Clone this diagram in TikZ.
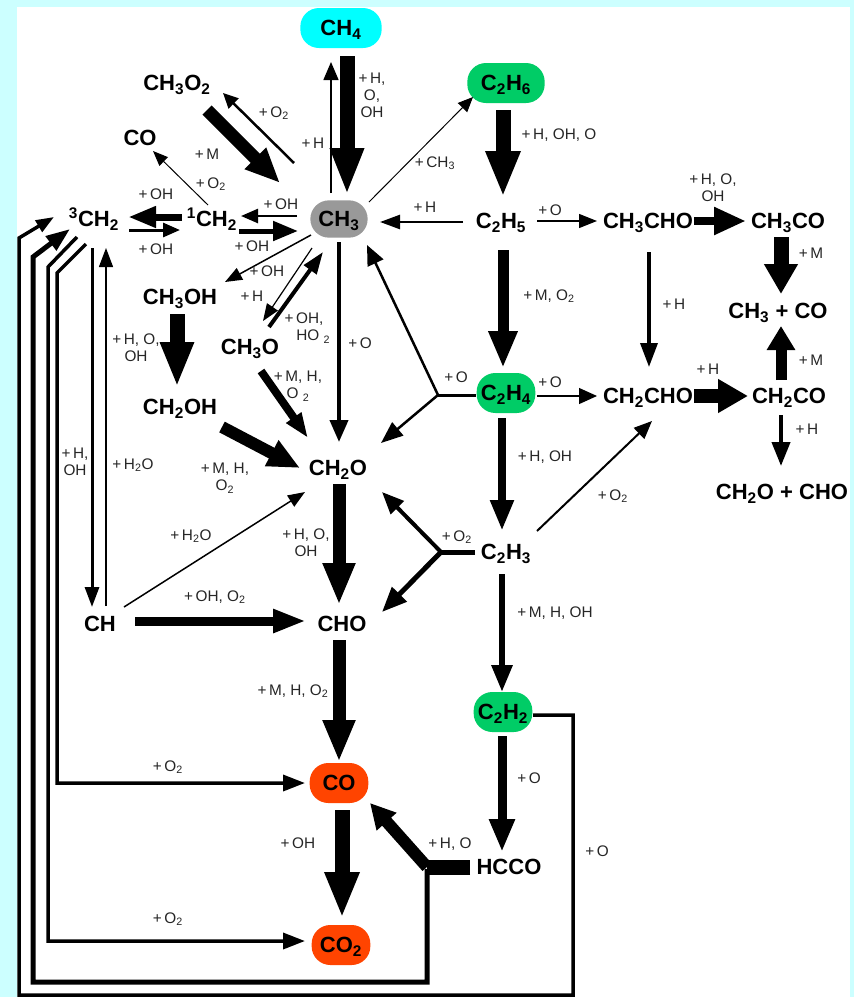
\documentclass[tikz,border=0pt]{standalone}
\usepackage{fontspec}
\setmainfont{Liberation Sans}
\usetikzlibrary{arrows.meta}

\definecolor{pagecyan}{RGB}{204,255,255}
\definecolor{fuelcyan}{RGB}{0,255,255}
\definecolor{fuelgreen}{RGB}{0,204,102}
\definecolor{radgray}{RGB}{153,153,153}
\definecolor{prodred}{RGB}{255,68,0}

\tikzset{
    chem/.style={inner sep=0pt, text height=11.8pt, text depth=0pt, font=\fontsize{16.5}{19}\selectfont\bfseries},
    pill/.style={chem, fill=#1, rounded corners=14pt, minimum height=30pt},
    lab/.style={inner sep=0pt, align=center, text=black!85, font=\fontsize{11.5}{12.8}\selectfont},
    flow/.style n args={3}{line width=#1*0.75pt, -{Triangle[length=#2pt, width=#3pt, scale=0.75]}},
    wire/.style={line width=#1*0.75pt}
}

\begin{document}
\begin{tikzpicture}[x=0.75pt, y=-0.75pt]

    % Page band and white sheet
    \useasboundingbox (0,0) rectangle (854,997);
    \fill[pagecyan] (0,0) rectangle (854,997);
    \fill[white] (17,7) rectangle (850,997);

    % Species in colour
    \node[pill=fuelcyan, minimum width=61pt] (ch4) at (341,28) {CH\textsubscript{4}};
    \node[pill=radgray, minimum width=43pt, minimum height=28pt] (ch3) at (339,219) {CH\textsubscript{3}};
    \node[pill=fuelgreen, minimum width=58pt] (c2h6) at (506,83) {C\textsubscript{2}H\textsubscript{6}};
    \node[pill=fuelgreen, minimum width=44pt] (c2h4) at (506,393) {C\textsubscript{2}H\textsubscript{4}};
    \node[pill=fuelgreen, minimum width=44pt] (c2h2) at (503,712) {C\textsubscript{2}H\textsubscript{2}};
    \node[pill=prodred, minimum width=44pt] (co) at (339,783) {CO};
    \node[pill=prodred, minimum width=44pt] (co2) at (341,945) {CO\textsubscript{2}};

    % Plain species
    \node[chem] (ch3o2) at (177,83) {CH\textsubscript{3}O\textsubscript{2}};
    \node[chem] (coA) at (140,138) {CO};
    \node[chem] (tch2) at (94,219) {\textsuperscript{3}CH\textsubscript{2}};
    \node[chem] (och2) at (212,219) {\textsuperscript{1}CH\textsubscript{2}};
    \node[chem] (c2h5) at (501,221) {C\textsubscript{2}H\textsubscript{5}};
    \node[chem] (ch3cho) at (648,221) {CH\textsubscript{3}CHO};
    \node[chem] (ch3co) at (788,221) {CH\textsubscript{3}CO};
    \node[chem] (prodA) at (778,311) {CH\textsubscript{3} + CO};
    \node[chem] (ch3oh) at (180,297) {CH\textsubscript{3}OH};
    \node[chem] (ch3o) at (250,347) {CH\textsubscript{3}O};
    \node[chem] (ch2oh) at (180,407) {CH\textsubscript{2}OH};
    \node[chem] (ch2cho) at (648,396) {CH\textsubscript{2}CHO};
    \node[chem] (ch2co) at (789,396) {CH\textsubscript{2}CO};
    \node[chem] (prodB) at (782,492) {CH\textsubscript{2}O + CHO};
    \node[chem] (ch2o) at (338,468) {CH\textsubscript{2}O};
    \node[chem] (c2h3) at (506,552) {C\textsubscript{2}H\textsubscript{3}};
    \node[chem] (ch) at (100,624) {CH};
    \node[chem] (cho) at (342,624) {CHO};
    \node[chem] (hcco) at (509,867) {HCCO};

    % Branch points
    \coordinate (forkA) at (438,395);
    \coordinate (forkB) at (441,552);
    \coordinate (forkC) at (427,867);

    % Top of the scheme
    \draw[flow={1.5}{18}{15}] ([shift={(-8,-26)}]ch3.center) -- ([shift={(-10,34)}]ch4.center);
    \draw[flow={15}{47}{31}] ([shift={(6,28)}]ch4.center) -- ([shift={(8,-24)}]ch3.center);
    \draw[flow={2.5}{15}{14}] ([shift={(-45,-56)}]ch3.center) -- ([shift={(46,10)}]ch3o2.center);
    \draw[flow={13}{35}{28}] ([shift={(30,27)}]ch3o2.center) -- ([shift={(-59,-36)}]ch3.center);
    \draw[flow={1}{15}{12}] ([shift={(-4,-14)}]och2.center) -- ([shift={(13,13)}]coA.center);
    \draw[flow={7}{28}{20}] ([shift={(-30,-2)}]och2.center) -- ([shift={(34,-2)}]tch2.center);
    \draw[flow={3}{17}{14}] ([shift={(35,11)}]tch2.center) -- ([shift={(-32,11)}]och2.center);
    \draw[flow={2.5}{17}{14}] ([shift={(-42,-3)}]ch3.center) -- ([shift={(29,-3)}]och2.center);
    \draw[flow={5}{25}{19}] ([shift={(27,12)}]och2.center) -- ([shift={(-41,12)}]ch3.center);
    \draw[flow={1.5}{17}{13}] ([shift={(-28,16)}]ch3.center) -- ([shift={(45,-15)}]ch3oh.center);
    \draw[flow={1.2}{17}{13}] ([shift={(-27,29)}]ch3.center) -- ([shift={(13,-26)}]ch3o.center);
    \draw[flow={4}{22}{15}] ([shift={(19,-20)}]ch3o.center) -- ([shift={(-16,33)}]ch3.center);
    \draw[flow={4}{22}{18}] ([shift={(0,23)}]ch3.center) -- ([shift={(1,-26)}]ch2o.center);
    \draw[flow={2.5}{20}{14}] ([shift={(-38,1)}]c2h5.center) -- ([shift={(41,3)}]ch3.center);
    \draw[flow={1}{15}{13}] ([shift={(30,-17)}]ch3.center) -- ([shift={(-33,14)}]c2h6.center);

    % C2 chain
    \draw[flow={15}{46}{32}] ([shift={(-3,27)}]c2h6.center) -- ([shift={(2,-24)}]c2h5.center);
    \draw[flow={1.2}{18}{14}] ([shift={(36,0)}]c2h5.center) -- ([shift={(-51,0)}]ch3cho.center);
    \draw[flow={8}{32}{26}] ([shift={(46,0)}]ch3cho.center) -- ([shift={(-42,0)}]ch3co.center);
    \draw[flow={15}{30}{32}] ([shift={(-7,16)}]ch3co.center) -- ([shift={(3,-17)}]prodA.center);
    \draw[flow={11}{37}{27}] ([shift={(2,29)}]c2h5.center) -- ([shift={(-3,-25)}]c2h4.center);
    \draw[flow={3.5}{24}{17}] ([shift={(1,31)}]ch3cho.center) -- ([shift={(1,-29)}]ch2cho.center);
    \draw[flow={11}{24}{27}] ([shift={(-8,-16)}]ch2co.center) -- ([shift={(3,15)}]prodA.center);
    \draw[flow={14}{30}{32}] ([shift={(46,0)}]ch2cho.center) -- ([shift={(-41,0)}]ch2co.center);
    \draw[flow={4}{24}{18}] ([shift={(-8,19)}]ch2co.center) -- ([shift={(-1,-26)}]prodB.center);
    \draw[flow={1.2}{18}{16}] ([shift={(31,3)}]c2h4.center) -- ([shift={(-51,0)}]ch2cho.center);
    \draw[flow={8}{31}{22}] ([shift={(-4,25)}]c2h4.center) -- ([shift={(-4,-21)}]c2h3.center);
    \draw[flow={2}{18}{15}] ([shift={(31,-21)}]c2h3.center) -- ([shift={(4,25)}]ch2cho.center);
    \draw[flow={6}{27}{20}] ([shift={(-4,22)}]c2h3.center) -- ([shift={(-1,-20)}]c2h2.center);
    \draw[flow={9}{33}{24}] ([shift={(-1,24)}]c2h2.center) -- ([shift={(-7,-15)}]hcco.center);

    % Forks
    \draw[wire=3] ([shift={(-30,2)}]c2h4.center) -- (forkA);
    \draw[flow={2.5}{20}{17}] (forkA) -- ([shift={(28,26)}]ch3.center);
    \draw[flow={2.5}{22}{17}] (forkA) -- ([shift={(43,-25)}]ch2o.center);
    \draw[wire=5] ([shift={(-31,0)}]c2h3.center) -- (forkB);
    \draw[flow={4}{22}{18}] (forkB) -- ([shift={(44,24)}]ch2o.center);
    \draw[flow={5}{25}{20}] (forkB) -- ([shift={(40,-12)}]cho.center);
    \draw[wire=15] ([shift={(-39,0)}]hcco.center) -- (forkC);
    \draw[flow={12}{25}{25}] (forkC) -- ([shift={(31,20)}]co.center);

    % C1 chain
    \draw[flow={13}{42}{30}] ([shift={(1,16)}]ch2o.center) -- ([shift={(-3,-19)}]cho.center);
    \draw[flow={1.5}{17}{13}] ([shift={(24,-17)}]ch.center) -- ([shift={(-33,24)}]ch2o.center);
    \draw[flow={9}{33}{22}] ([shift={(35,-3)}]ch.center) -- ([shift={(-36,-3)}]cho.center);
    \draw[flow={13}{42}{30}] ([shift={(-3,16)}]cho.center) -- ([shift={(0,-21)}]co.center);
    \draw[flow={15}{46}{32}] ([shift={(3,27)}]co.center) -- ([shift={(1,-27)}]co2.center);
    \draw[flow={15}{45}{31}] ([shift={(-3,17)}]ch3oh.center) -- ([shift={(-3,-20)}]ch2oh.center);
    \draw[flow={8}{25}{17}] ([shift={(11,24)}]ch3o.center) -- ([shift={(-30,-30)}]ch2o.center);
    \draw[flow={12}{32}{27}] ([shift={(42,20)}]ch2oh.center) -- ([shift={(-38,0)}]ch2o.center);
    \draw[flow={3}{20}{14}] ([shift={(-2,29)}]tch2.center) -- ([shift={(-8,-17)}]ch.center);
    \draw[flow={1.3}{19}{14}] ([shift={(6,-18)}]ch.center) -- ([shift={(12,29)}]tch2.center);

    % Long return paths around the left side
    \draw[flow={3.5}{18}{13}] ([shift={(30,3)}]c2h2.center) -- (573,715) -- (573,995) -- (19,995) -- (19,238) -- ([shift={(-40,-2)}]tch2.center);
    \draw[flow={5}{24}{17}] ([shift={(0,2)}]forkC) -- (427,982) -- (33,982) -- (33,257) -- ([shift={(-24,10)}]tch2.center);
    \draw[flow={3.5}{22}{16}] ([shift={(-17,18)}]tch2.center) -- (48,267) -- (48,941) -- ([shift={(-36,-4)}]co2.center);
    \draw[flow={3.5}{22}{16}] ([shift={(-8,25)}]tch2.center) -- (57,273) -- (57,783) -- ([shift={(-34,0)}]co.center);

    % Reaction partners
    \node[lab] (l1) at (372,95) {+\,H,\\O,\\OH};
    \node[lab] (l2) at (274,113) {+\,O\textsubscript{2}};
    \node[lab] (l3) at (313,143) {+\,H};
    \node[lab] (l4) at (207,154) {+\,M};
    \node[lab] (l5) at (211,184) {+\,O\textsubscript{2}};
    \node[lab] (l6) at (156,194) {+\,OH};
    \node[lab] (l7) at (156,249) {+\,OH};
    \node[lab] (l8) at (281,204) {+\,OH};
    \node[lab] (l9) at (252,246) {+\,OH};
    \node[lab] (l10) at (267,271) {+\,OH};
    \node[lab] (l11) at (252,296) {+\,H};
    \node[lab] (l12) at (304,328) {+\,OH,\\\hspace{1.2em}HO \textsubscript{2}};
    \node[lab] (l13) at (435,163) {+\,CH\textsubscript{3}};
    \node[lab] (l14) at (425,207) {+\,H};
    \node[lab] (l15) at (559,135) {+\,H, OH, O};
    \node[lab] (l16) at (550,210) {+\,O};
    \node[lab] (l17) at (713,188) {+\,H, O,\\OH};
    \node[lab] (l18) at (811,253) {+\,M};
    \node[lab] (l19) at (549,296) {+\,M, O\textsubscript{2}};
    \node[lab] (l20) at (674,304) {+\,H};
    \node[lab] (l21) at (811,360) {+\,M};
    \node[lab] (l22) at (708,369) {+\,H};
    \node[lab] (l23) at (550,382) {+\,O};
    \node[lab] (l24) at (456,377) {+\,O};
    \node[lab] (l25) at (807,429) {+\,H};
    \node[lab] (l26) at (545,457) {+\,H, OH};
    \node[lab] (l27) at (613,496) {+\,O\textsubscript{2}};
    \node[lab] (l28) at (457,537) {+\,O\textsubscript{2}};
    \node[lab] (l29) at (555,613) {+\,M, H, OH};
    \node[lab] (l30) at (529,778) {+\,O};
    \node[lab] (l31) at (597,851) {+\,O};
    \node[lab] (l32) at (450,844) {+\,H, O};
    \node[lab] (l33) at (298,386) {+\,M, H,\\O \textsubscript{2}};
    \node[lab] (l34) at (360,343) {+\,O};
    \node[lab] (l35) at (136,348) {+\,H, O,\\OH};
    \node[lab] (l36) at (75,462) {+\,H,\\OH};
    \node[lab] (l37) at (133,465) {+\,H\textsubscript{2}O};
    \node[lab] (l38) at (225,478) {+\,M, H,\\O\textsubscript{2}};
    \node[lab] (l39) at (191,536) {+\,H\textsubscript{2}O};
    \node[lab] (l40) at (306,543) {+\,H, O,\\OH};
    \node[lab] (l41) at (215,597) {+\,OH, O\textsubscript{2}};
    \node[lab] (l42) at (293,691) {+\,M, H, O\textsubscript{2}};
    \node[lab] (l43) at (168,767) {+\,O\textsubscript{2}};
    \node[lab] (l44) at (298,843) {+\,OH};
    \node[lab] (l45) at (168,919) {+\,O\textsubscript{2}};

\end{tikzpicture}
\end{document}
